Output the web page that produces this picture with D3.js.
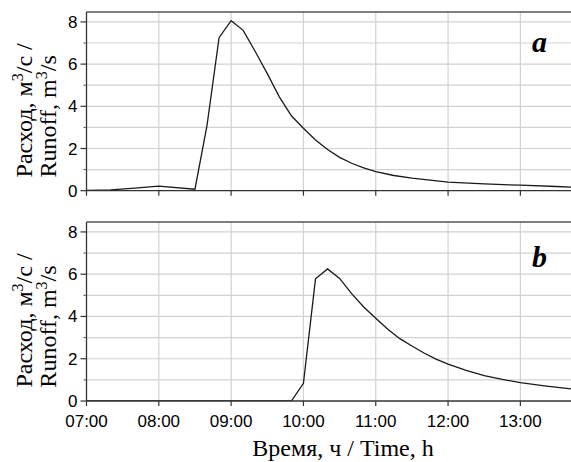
<!DOCTYPE html>
<html>
<head>
<meta charset="utf-8">
<script src="https://cdn.jsdelivr.net/npm/d3@7"></script>
<style>
  body { margin: 0; background: #fff; }
  svg { display: block; }
</style>
</head>
<body>
<svg id="chart" width="571" height="462"></svg>
<script>
// Runoff hydrographs, two panels
const timesA = ['07:00','07:20','07:40','08:00','08:30','08:40','08:50','09:00','09:10','09:20','09:30','09:40','09:50',
  '10:00','10:10','10:20','10:30','10:40','10:50','11:00','11:15','11:30','11:45','12:00','12:30','13:00','13:30','13:42'];
const valuesA = [0.02, 0.04, 0.12, 0.22, 0.07, 3.1, 7.25, 8.06, 7.6, 6.6, 5.55, 4.45, 3.55,
  2.96, 2.4, 1.95, 1.58, 1.3, 1.08, 0.9, 0.72, 0.6, 0.5, 0.41, 0.32, 0.26, 0.2, 0.17];

const timesB = ['07:00','09:50','10:00','10:10','10:20','10:30','10:40','10:50','11:00','11:10','11:20','11:30','11:40',
  '11:50','12:00','12:15','12:30','12:45','13:00','13:20','13:42'];
const valuesB = [0, 0, 0.84, 5.78, 6.25, 5.8, 5.08, 4.45, 3.92, 3.4, 2.95, 2.6, 2.27,
  1.98, 1.75, 1.45, 1.2, 1.02, 0.87, 0.72, 0.57];

const xTicks = ['07:00','08:00','09:00','10:00','11:00','12:00','13:00'];
const yTicks = [0, 2, 4, 6, 8];
const yMinor = [1, 3, 5, 7];
const tags = ['a', 'b'];

const SANS = '"Liberation Sans", Arial, sans-serif';
const SERIF = '"Liberation Serif", "DejaVu Serif", serif';

const parse = d3.timeParse('%H:%M');
const fmt = d3.timeFormat('%H:%M');

const svg = d3.select('#chart');
const left = 86.5, right = 571;

const x = d3.scaleTime()
  .domain([parse('07:00'), parse('13:42')])
  .range([left, right]);

const panels = [
  { top: 12, bottom: 190.7, times: timesA, values: valuesA, showX: false, tagY: 51.5 },
  { top: 222, bottom: 401, times: timesB, values: valuesB, showX: true, tagY: 266.5 }
];

function serifText(sel) {
  return sel.style('font-family', SERIF).style('font-size', '24px').attr('fill', '#000');
}

panels.forEach((p, i) => {
  const y = d3.scaleLinear().domain([0, 8.47]).range([p.bottom, p.top]);
  const g = svg.append('g');

  // gridlines
  g.append('g')
    .selectAll('line')
    .data(d3.range(1, 9))
    .join('line')
      .attr('x1', left).attr('x2', right)
      .attr('y1', d => y(d)).attr('y2', d => y(d))
      .attr('stroke', '#d2d2d2').attr('stroke-width', 1.2);
  g.append('g')
    .selectAll('line')
    .data(xTicks.slice(1))
    .join('line')
      .attr('x1', d => x(parse(d))).attr('x2', d => x(parse(d)))
      .attr('y1', p.top).attr('y2', p.bottom)
      .attr('stroke', '#d2d2d2').attr('stroke-width', 1.2);

  // curve
  const clipId = 'clip' + i;
  svg.append('clipPath').attr('id', clipId)
    .append('rect').attr('x', left).attr('y', p.top).attr('width', right - left).attr('height', p.bottom - p.top);

  const pts = p.times.map((t, k) => [parse(t), p.values[k]]);
  g.append('path')
    .datum(pts)
    .attr('clip-path', `url(#${clipId})`)
    .attr('fill', 'none')
    .attr('stroke', '#1a1a1a')
    .attr('stroke-width', 1.3)
    .attr('d', d3.line().x(d => x(d[0])).y(d => y(d[1])));

  // frame: top, left, bottom
  g.append('line').attr('x1', left).attr('x2', right).attr('y1', p.top).attr('y2', p.top)
    .attr('stroke', '#555').attr('stroke-width', 1.3);
  g.append('line').attr('x1', left).attr('x2', left).attr('y1', p.top).attr('y2', p.bottom)
    .attr('stroke', '#333').attr('stroke-width', 1.3);
  g.append('line').attr('x1', left).attr('x2', right).attr('y1', p.bottom).attr('y2', p.bottom)
    .attr('stroke', '#333').attr('stroke-width', 1.3);

  // y ticks
  g.append('g').selectAll('line')
    .data(yTicks)
    .join('line')
      .attr('x1', left - 6).attr('x2', left)
      .attr('y1', d => y(d)).attr('y2', d => y(d))
      .attr('stroke', '#333').attr('stroke-width', 1.2);
  g.append('g').selectAll('line')
    .data(yMinor)
    .join('line')
      .attr('x1', left - 3).attr('x2', left)
      .attr('y1', d => y(d)).attr('y2', d => y(d))
      .attr('stroke', '#555').attr('stroke-width', 1);
  g.append('g').selectAll('text')
    .data(yTicks)
    .join('text')
      .style('font-family', SANS).style('font-size', '17px')
      .attr('x', left - 9)
      .attr('y', d => y(d) + 6)
      .attr('text-anchor', 'end')
      .text(d => d);

  // x ticks
  g.append('g').selectAll('line')
    .data(xTicks)
    .join('line')
      .attr('x1', d => x(parse(d))).attr('x2', d => x(parse(d)))
      .attr('y1', p.bottom).attr('y2', p.bottom + 5)
      .attr('stroke', '#333').attr('stroke-width', 1.2);
  if (p.showX) {
    g.append('g').selectAll('text')
      .data(xTicks)
      .join('text')
        .style('font-family', SANS).style('font-size', '17px')
        .attr('x', d => x(parse(d)))
        .attr('y', p.bottom + 26)
        .attr('text-anchor', 'middle')
        .text(d => fmt(parse(d)));
  }

  // y title (two lines)
  const cy = (p.top + p.bottom) / 2 + 9;
  const t1 = serifText(g.append('text'))
    .attr('transform', `translate(32,${cy}) rotate(-90)`)
    .attr('text-anchor', 'middle');
  t1.append('tspan').text('Расход, м');
  t1.append('tspan').attr('dy', -9).style('font-size', '16px').text('3');
  t1.append('tspan').attr('dy', 9).text('/с /');
  const t2 = serifText(g.append('text'))
    .attr('transform', `translate(56,${cy + 6}) rotate(-90)`)
    .attr('text-anchor', 'middle');
  t2.append('tspan').text('Runoff, m');
  t2.append('tspan').attr('dy', -9).style('font-size', '16px').text('3');
  t2.append('tspan').attr('dy', 9).text('/s');

  // panel tag
  g.append('text')
    .style('font-family', SERIF).style('font-size', '30px')
    .style('font-weight', 'bold').style('font-style', 'italic')
    .attr('x', 532).attr('y', p.tagY)
    .text(tags[i]);
});

// x title
serifText(svg.append('text'))
  .attr('x', 343).attr('y', 456)
  .attr('text-anchor', 'middle')
  .text('Время, ч / Time, h');
</script>
</body>
</html>
